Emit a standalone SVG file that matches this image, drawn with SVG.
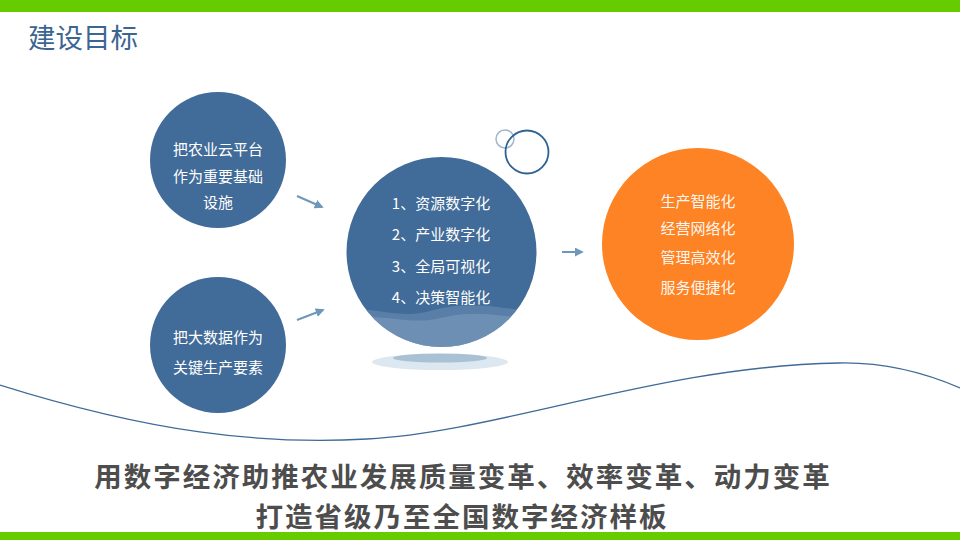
<svg xmlns="http://www.w3.org/2000/svg" width="960" height="540" viewBox="0 0 960 540">
<defs>
<style>
.t{font-family:"Noto Sans CJK SC","Liberation Sans",sans-serif;}
.w{fill:#ffffff;font-size:15px;text-anchor:middle;}
.blue{fill:#416b98;}
.arr{stroke:#6e97b9;stroke-width:2;fill:none;marker-end:url(#ah);}
.big{font-size:27.5px;letter-spacing:2px;font-weight:bold;fill:#4d4d4d;text-anchor:middle;}
</style>
<marker id="ah" viewBox="0 0 10 10" refX="8" refY="5" markerWidth="4.5" markerHeight="4.5" orient="auto">
<path d="M0,0 L10,5 L0,10 z" fill="#6e97b9"/>
</marker>
<clipPath id="cc"><circle cx="441.5" cy="252" r="95"/></clipPath>
</defs>
<rect width="960" height="540" fill="#ffffff"/>
<rect x="0" y="0" width="960" height="12" fill="#66cc00"/>
<rect x="0" y="532" width="960" height="8" fill="#66cc00"/>
<text class="t" x="28" y="48" font-size="27.5" fill="#3c6592">建设目标</text>
<path d="M0,385 C150,432 260,445 367,439 C500,432 660,366 839,363 C890,362 930,375 960,388" fill="none" stroke="#3e6a98" stroke-width="1.3"/>
<g id="node-left-top">
<circle class="blue" cx="218" cy="160" r="68"/>
<text class="t w" x="218" y="155">把农业云平台</text>
<text class="t w" x="218" y="182">作为重要基础</text>
<text class="t w" x="218" y="208">设施</text>
</g>
<g id="node-left-bottom">
<circle class="blue" cx="218" cy="345" r="68"/>
<text class="t w" x="218" y="343">把大数据作为</text>
<text class="t w" x="218" y="373">关键生产要素</text>
</g>
<g id="node-center">
<ellipse cx="440" cy="362" rx="68" ry="8" fill="#dde7ef"/>
<ellipse cx="440" cy="358" rx="47" ry="4.5" fill="#a9c1d4"/>
<circle class="blue" cx="441.5" cy="252" r="95"/>
<g clip-path="url(#cc)">
<path d="M340,310 C370,305 400,320 430,311 C460,302 490,304 540,314 L540,360 L340,360 z" fill="#7797ba" opacity="0.45"/>
<path d="M340,318 C380,312 410,326 440,318 C470,310 500,314 540,322 L540,360 L340,360 z" fill="#86a4c3" opacity="0.45"/>
</g>
<text class="t w" x="441" y="209">1、资源数字化</text>
<text class="t w" x="441" y="240">2、产业数字化</text>
<text class="t w" x="441" y="272">3、全局可视化</text>
<text class="t w" x="441" y="303">4、决策智能化</text>
</g>
<g id="deco-circles">
<circle cx="505" cy="139" r="9" fill="none" stroke="#a3b7ca" stroke-width="1.5"/>
<circle cx="527" cy="152" r="21.5" fill="none" stroke="#2e6294" stroke-width="1.8"/>
</g>
<g id="node-right">
<circle cx="698" cy="244" r="96" fill="#fd8324"/>
<text class="t w" x="698" y="207" fill-opacity="0.95">生产智能化</text>
<text class="t w" x="698" y="234" fill-opacity="0.95">经营网络化</text>
<text class="t w" x="698" y="263" fill-opacity="0.95">管理高效化</text>
<text class="t w" x="698" y="293" fill-opacity="0.95">服务便捷化</text>
</g>
<g id="connectors">
<line class="arr" x1="297" y1="196" x2="322" y2="207"/>
<line class="arr" x1="297" y1="320" x2="323" y2="310"/>
<line class="arr" x1="562" y1="252" x2="582" y2="252"/>
</g>
<g id="bottom-text">
<text class="t big" x="463" y="487">用数字经济助推农业发展质量变革、效率变革、动力变革</text>
<text class="t big" x="462" y="527">打造省级乃至全国数字经济样板</text>
</g>
</svg>
